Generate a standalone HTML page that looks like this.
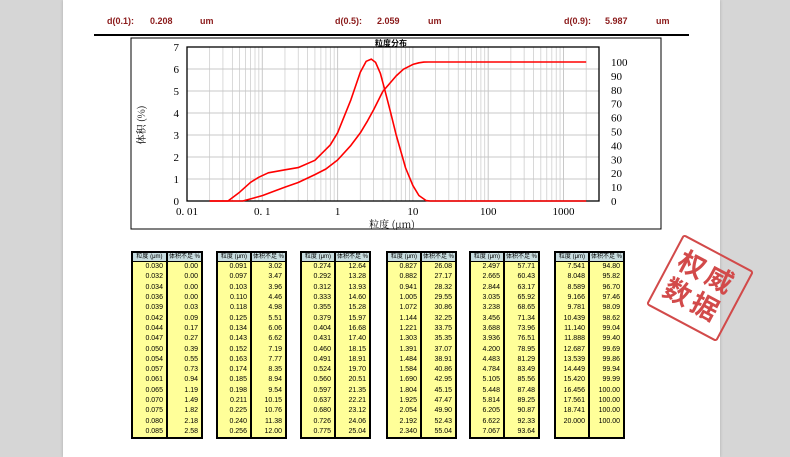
<!DOCTYPE html>
<html><head><meta charset="utf-8"><style>
body{margin:0;width:790px;height:457px;background:#d6d6d6;position:relative;overflow:hidden;font-family:"Liberation Sans","Noto Sans CJK SC",sans-serif}
#page{position:absolute;left:63px;top:0;width:657px;height:457px;background:#fff;box-shadow:0 0 3px #aaa}
.t{position:absolute;font-size:9px;font-weight:bold;color:#8b1a1a}
table{position:absolute;border-collapse:collapse;border:2px solid #000;font-size:7px;top:251px}
td{padding:0 3px;height:10.3px;line-height:10px;text-align:right;background:#ffff99;border-left:2px solid #000}
td:first-child{border-left:none}
tr.h td{background:#c8dde0;font-size:6px;text-align:center;border-bottom:1px solid #000;height:8px;line-height:8px;padding:0 1px;white-space:nowrap}
</style></head><body>
<div id="page"></div>
<div class="t" style="left:107px;top:16px">d(0.1):</div><div class="t" style="left:150px;top:16px">0.208</div><div class="t" style="left:200px;top:16px">um</div>
<div class="t" style="left:335px;top:16px">d(0.5):</div><div class="t" style="left:377px;top:16px">2.059</div><div class="t" style="left:428px;top:16px">um</div>
<div class="t" style="left:564px;top:16px">d(0.9):</div><div class="t" style="left:605px;top:16px">5.987</div><div class="t" style="left:656px;top:16px">um</div>
<div style="position:absolute;left:94px;top:34px;width:595px;height:2px;background:#000"></div>
<svg id="ch" style="position:absolute;left:0;top:0" width="790" height="457"></svg>
<div id="tabs"></div>
<div style="position:absolute;left:660px;top:248px;width:76px;height:76px;border:2px solid #d24a4a;transform:rotate(28deg);border-radius:3px"></div>
<div style="position:absolute;left:666px;top:254px;width:70px;font-size:27px;font-weight:bold;color:#d24a4a;line-height:31px;transform:rotate(28deg);font-family:'Noto Sans CJK SC',sans-serif;letter-spacing:4px;text-align:center">权威<br>数据</div>
<script>
var s='',L=187,R=599,T=47,B=201,dw=75.3;
function X(u){return L+(Math.log10(u)+2)*dw}
function Y(v){return B-v*22}
function Yc(v){return B-v*1.39}
s+='<rect x="131" y="38" width="530" height="191" fill="none" stroke="#000" stroke-width="1"/>';
for(var d=-2;d<4;d++)for(var k=1;k<10;k++){var x=X(k*Math.pow(10,d));if(x>R)break;s+='<line x1="'+x+'" y1="'+T+'" x2="'+x+'" y2="'+B+'" stroke="#c8c8c8" stroke-width="'+(k==1?1:0.7)+'"/>';}
for(var i=1;i<7;i++)s+='<line x1="'+L+'" x2="'+R+'" y1="'+Y(i)+'" y2="'+Y(i)+'" stroke="#c8c8c8"/>';
s+='<rect x="'+L+'" y="'+T+'" width="'+(R-L)+'" height="'+(B-T)+'" fill="none" stroke="#000" stroke-width="1.3"/>';
for(i=0;i<8;i++)s+='<text x="179" y="'+(Y(i)+4)+'" font-size="11" font-family="Liberation Serif" text-anchor="end">'+i+'</text>';
for(i=0;i<=100;i+=10)s+='<text x="611" y="'+(Yc(i)+4)+'" font-size="11" font-family="Liberation Serif">'+i+'</text>';
var xl=[['0. 01',0.01],['0. 1',0.1],['1',1],['10',10],['100',100],['1000',1000]];
xl.forEach(function(a){s+='<text x="'+X(a[1])+'" y="215" font-size="11" font-family="Liberation Serif" text-anchor="middle">'+a[0]+'</text>'});
s+='<text x="391" y="46" font-size="8" font-weight="bold" text-anchor="middle" font-family="Noto Sans CJK SC">粒度分布</text>';
s+='<text x="392" y="228" font-size="10" text-anchor="middle" font-family="Noto Serif CJK SC">粒度 (μm)</text>';
s+='<text transform="translate(145,125) rotate(-90)" font-size="10" text-anchor="middle" font-family="Noto Serif CJK SC">体积 (%)</text>';
var den=[[0.02,0],[0.035,0],[0.05,0.4],[0.07,0.85],[0.09,1.08],[0.12,1.28],[0.2,1.42],[0.3,1.52],[0.5,1.85],[0.8,2.55],[1,3.1],[1.5,4.6],[2,5.85],[2.4,6.35],[2.8,6.45],[3.2,6.3],[3.7,5.8],[4.2,5.1],[5,4.1],[6,3.0],[8,1.5],[10,0.7],[12,0.25],[15,0.02],[17,0],[2000,0]];
var p='';den.forEach(function(a,j){p+=(j?'L':'M')+X(a[0]).toFixed(1)+','+Y(a[1]).toFixed(1)});
s+='<path d="'+p+'" fill="none" stroke="#f00" stroke-width="1.6" stroke-linejoin="round"/>';
var cum=[[0.02,0],[0.055,0],[0.07,1.49],[0.1,3.9],[0.15,7.5],[0.2,10],[0.3,13.3],[0.5,19],[0.7,23],[1,29.5],[1.5,40],[2,49],[2.5,57.7],[3,65.5],[4,78.9],[5,85],[6,90],[7.5,94.8],[10,98.3],[12,99.4],[14,99.9],[16,100],[2000,100]];
p='';cum.forEach(function(a,j){p+=(j?'L':'M')+X(a[0]).toFixed(1)+','+Yc(a[1]).toFixed(1)});
s+='<path d="'+p+'" fill="none" stroke="#f00" stroke-width="1.6" stroke-linejoin="round"/>';
document.getElementById('ch').innerHTML=s;
var data=[
["0.030 0.00","0.032 0.00","0.034 0.00","0.036 0.00","0.039 0.03","0.042 0.09","0.044 0.17","0.047 0.27","0.050 0.39","0.054 0.55","0.057 0.73","0.061 0.94","0.065 1.19","0.070 1.49","0.075 1.82","0.080 2.18","0.085 2.58"],
["0.091 3.02","0.097 3.47","0.103 3.96","0.110 4.46","0.118 4.98","0.125 5.51","0.134 6.06","0.143 6.62","0.152 7.19","0.163 7.77","0.174 8.35","0.185 8.94","0.198 9.54","0.211 10.15","0.225 10.76","0.240 11.38","0.256 12.00"],
["0.274 12.64","0.292 13.28","0.312 13.93","0.333 14.60","0.355 15.28","0.379 15.97","0.404 16.68","0.431 17.40","0.460 18.15","0.491 18.91","0.524 19.70","0.560 20.51","0.597 21.35","0.637 22.21","0.680 23.12","0.726 24.06","0.775 25.04"],
["0.827 26.08","0.882 27.17","0.941 28.32","1.005 29.55","1.072 30.86","1.144 32.25","1.221 33.75","1.303 35.35","1.391 37.07","1.484 38.91","1.584 40.86","1.690 42.95","1.804 45.15","1.925 47.47","2.054 49.90","2.192 52.43","2.340 55.04"],
["2.497 57.71","2.665 60.43","2.844 63.17","3.035 65.92","3.238 68.65","3.456 71.34","3.688 73.96","3.936 76.51","4.200 78.95","4.483 81.29","4.784 83.49","5.105 85.56","5.448 87.48","5.814 89.25","6.205 90.87","6.622 92.33","7.067 93.64"],
["7.541 94.80","8.048 95.82","8.589 96.70","9.166 97.46","9.781 98.09","10.439 98.62","11.140 99.04","11.888 99.40","12.687 99.69","13.539 99.86","14.449 99.94","15.420 99.99","16.456 100.00","17.561 100.00","18.741 100.00","20.000 100.00","&nbsp; &nbsp;"]];
var lefts=[131,216,300,386,469,554],w1=[34,34,34,34,33,33],h='';
data.forEach(function(c,k){h+='<table style="left:'+lefts[k]+'px;width:'+(k==0?72:71)+'px"><tr class="h"><td style="width:'+w1[k]+'px">粒度 (μm)</td><td>体积不足 %</td></tr>';
c.forEach(function(r){var q=r.split(' ');h+='<tr><td>'+q[0]+'</td><td>'+q[1]+'</td></tr>'});h+='</table>'});
document.getElementById('tabs').innerHTML=h;
</script>
</body></html>
